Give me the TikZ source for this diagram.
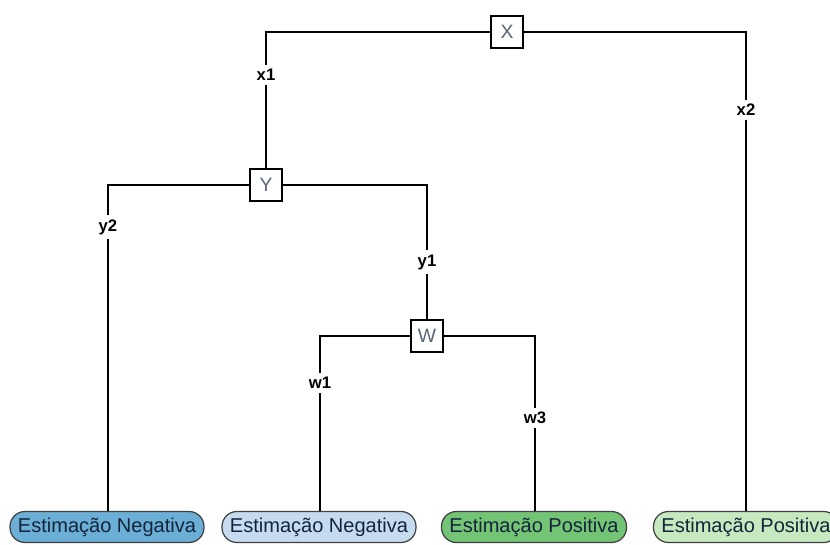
\documentclass[tikz,border=0pt]{standalone}
\usepackage{fontspec}
\setmainfont{Liberation Sans}
\usepackage{xcolor}
\usetikzlibrary{positioning}
\definecolor{leafblue}{HTML}{6BAED6}
\definecolor{leaflightblue}{HTML}{C6DBEF}
\definecolor{leafgreen}{HTML}{74C476}
\definecolor{leaflightgreen}{HTML}{C7E9C0}
\definecolor{lettergray}{HTML}{5A6478}
\definecolor{leaftext}{HTML}{14243A}

\begin{document}
\begin{tikzpicture}[line width=0.65pt,
    test/.style={rectangle, draw, line width=0.9pt, fill=white, minimum size=0.63cm, inner sep=0pt, font=\fontsize{11}{13}\selectfont, text=lettergray},
    branch/.style={fill=white, inner sep=2pt, font=\fontsize{9.5}{11}\selectfont\bfseries},
    leaf/.style={rectangle, draw=black!75, rounded corners=8.5pt, line width=0.7pt, minimum height=0.62cm, inner xsep=4.5pt, inner ysep=1pt, font=\fontsize{11.4}{13}\selectfont, text=leaftext}]
    \useasboundingbox (0,0) rectangle (16.6,-10.88);

    % tests
    \node[test] at (10.14, -0.64) (X) {X};
    \node[test] at (5.32, -3.70)  (Y) {Y};
    \node[test] at (8.54, -6.72)  (W) {W};

    % branch labels
    \node[branch] at (5.32, -1.50)  (x1) {x1};
    \node[branch] at (14.92, -2.20) (x2) {x2};
    \node[branch] at (2.16, -4.54)  (y2) {y2};
    \node[branch] at (8.54, -5.24)  (y1) {y1};
    \node[branch] at (6.40, -7.66)  (w1) {w1};
    \node[branch] at (10.70, -8.36) (w3) {w3};

    % leaves
    \node[leaf, fill=leafblue]       at (2.14, -10.54)  (n1) {Estimação Negativa};
    \node[leaf, fill=leaflightblue]  at (6.38, -10.54)  (n2) {Estimação Negativa};
    \node[leaf, fill=leafgreen]      at (10.68, -10.54) (p1) {Estimação Positiva};
    \node[leaf, fill=leaflightgreen] at (14.92, -10.54) (p2) {Estimação Positiva};

    \draw (X.west) -| (x1);
    \draw (x1) -- (Y);
    \draw (X.east) -| (x2);
    \draw (x2) -- (x2 |- p2.north);

    \draw (Y.west) -| (y2);
    \draw (y2) -- (y2 |- n1.north);
    \draw (Y.east) -| (y1);
    \draw (y1) -- (W);

    \draw (W.west) -| (w1);
    \draw (w1) -- (w1 |- n2.north);
    \draw (W.east) -| (w3);
    \draw (w3) -- (w3 |- p1.north);

\end{tikzpicture}
\end{document}
